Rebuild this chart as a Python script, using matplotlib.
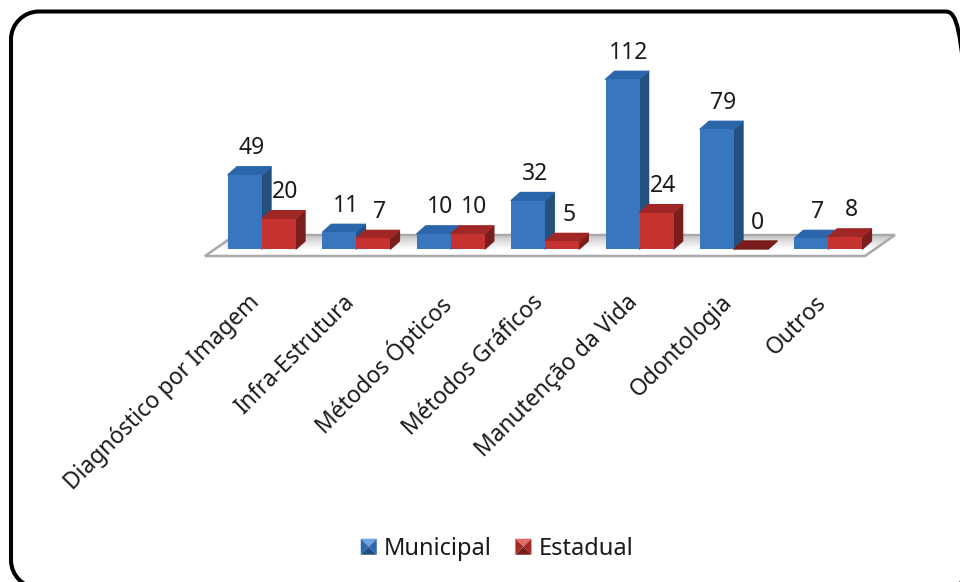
import matplotlib
matplotlib.use("Agg")
import matplotlib.pyplot as plt
from matplotlib.legend_handler import HandlerBase
from matplotlib.patches import Patch, PathPatch, Polygon
from matplotlib.path import Path
from matplotlib.transforms import IdentityTransform, ScaledTranslation

categories = ["Diagnóstico por Imagem", "Infra-Estrutura", "Métodos Ópticos", "Métodos Gráficos",
              "Manutenção da Vida", "Odontologia", "Outros"]
municipal = [49, 11, 10, 32, 112, 79, 7]
estadual = [20, 7, 10, 5, 24, 0, 8]

W, H = 960, 582
PX_PER_CAT = 94.4
PX_PER_VAL = 1.515
BAR_W = 34 / PX_PER_CAT
DX = 9 / PX_PER_CAT
DY = 8 / PX_PER_VAL

BLUE = {"front": "#3876c0", "side": "#24507f", "top": "#2b66ab"}
RED = {"front": "#c63230", "side": "#791e1c", "top": "#a02725"}

plt.rcParams["font.family"] = ["Noto Sans", "DejaVu Sans"]


class BevelHandler(HandlerBase):
    # little pyramid square used by the old office legend
    def create_artists(self, legend, orig, x, y, w, h, fontsize, trans):
        c = orig.colors
        s = 16 * 0.72
        x0, y0 = x + (w - s) / 2, y + (h - s) / 2
        mid = (x0 + s / 2, y0 + s / 2)
        a, b, d, e = (x0, y0), (x0 + s, y0), (x0 + s, y0 + s), (x0, y0 + s)
        faces = [([e, d, mid], c["light"]), ([a, b, mid], c["side"]),
                 ([a, e, mid], c["top"]), ([b, d, mid], c["top"])]
        return [Polygon(p, closed=True, facecolor=f, edgecolor="none", transform=trans) for p, f in faces]


def draw_bars(ax, xs, values, colors, z):
    for x, v, zz in zip(xs, values, z):
        left, right = x - BAR_W / 2, x + BAR_W / 2
        ax.bar(x, v, BAR_W, color=colors["front"], zorder=zz + 0.2, clip_on=False)
        top = [(left, v), (right, v), (right + DX, v + DY), (left + DX, v + DY)]
        side = [(right, 0), (right + DX, DY), (right + DX, v + DY), (right, v)]
        top_color = colors["side"] if v == 0 else colors["top"]
        ax.add_patch(Polygon(side, closed=True, facecolor=colors["side"], edgecolor=colors["side"],
                             lw=1.0, joinstyle="round", zorder=zz, clip_on=False))
        ax.add_patch(Polygon(top, closed=True, facecolor=top_color, edgecolor=top_color,
                             lw=1.0, joinstyle="round", zorder=zz + 0.1, clip_on=False))
        ax.annotate(str(v), (x, v), xytext=(4.7, 19), textcoords="offset points", ha="center", va="center",
                    fontsize=16.5, color="#1a1a1a", zorder=50, annotation_clip=False)


def rounded_frame(x0, y0, x1, y1, r):
    k = r * 0.448
    verts = [(x0 + r, y0), (x1 - r, y0), (x1 - k, y0), (x1, y0 + k), (x1, y0 + r),
             (x1, y1 - r), (x1, y1 - k), (x1 - k, y1), (x1 - r, y1),
             (x0 + r, y1), (x0 + k, y1), (x0, y1 - k), (x0, y1 - r),
             (x0, y0 + r), (x0, y0 + k), (x0 + k, y0), (x0 + r, y0)]
    codes = [Path.MOVETO, Path.LINETO, Path.CURVE4, Path.CURVE4, Path.CURVE4,
             Path.LINETO, Path.CURVE4, Path.CURVE4, Path.CURVE4,
             Path.LINETO, Path.CURVE4, Path.CURVE4, Path.CURVE4,
             Path.LINETO, Path.CURVE4, Path.CURVE4, Path.CURVE4]
    return Path(verts, codes)


fig = plt.figure(figsize=(W / 100, H / 100), dpi=100)
ax = fig.add_axes([205 / W, (H - 249) / H, 700 / W, 239 / H])
xlim = ((205 - 262) / PX_PER_CAT, (905 - 262) / PX_PER_CAT)
ylim = (0, 239 / PX_PER_VAL)
for s in ax.spines.values():
    s.set_visible(False)
ax.set_yticks([])
ax.patch.set_visible(False)

pos = list(range(len(categories)))
ax.set_xticks(pos, categories, rotation=45, ha="right", rotation_mode="anchor", fontsize=16.4, color="#1a1a1a")
ax.tick_params(axis="x", length=0, pad=30)
shift = ScaledTranslation(-14 / 100, 0, fig.dpi_scale_trans)
for lab in ax.get_xticklabels():
    lab.set_transform(lab.get_transform() + shift)

# floor of the 3d plot
y_front = -7 / PX_PER_VAL
y_back = 14 / PX_PER_VAL
x_a, x_b = (205 - 262) / PX_PER_CAT, (865 - 262) / PX_PER_CAT
slant = 30 / PX_PER_CAT
corners = [(x_a, y_front), (x_b, y_front), (x_b + slant, y_back), (x_a + slant, y_back)]
floor = Polygon(corners, closed=True, facecolor="none", edgecolor="#a9a9a9", lw=1.8, zorder=1.1, clip_on=False)
ax.add_patch(floor)
shade = ax.imshow([[0.80], [0.90], [0.98], [1.0]], cmap="gray", vmin=0, vmax=1, aspect="auto", zorder=1,
                  extent=(x_a, x_b + slant, y_front, y_back), interpolation="bilinear")
shade.set_clip_path(Polygon(corners, closed=True, transform=ax.transData))
ax.set_xlim(xlim)
ax.set_ylim(ylim)

z = [2 + i * 2 for i in pos]
draw_bars(ax, [p - BAR_W / 2 for p in pos], municipal, BLUE, z)
draw_bars(ax, [p + BAR_W / 2 for p in pos], estadual, RED, [k + 1 for k in z])

h1 = Patch(label="Municipal")
h1.colors = {"light": "#6fa3e0", "top": "#2f66ad", "side": "#234c80"}
h2 = Patch(label="Estadual")
h2.colors = {"light": "#e06a66", "top": "#a52a27", "side": "#741d1b"}
fig.legend(handles=[h1, h2], loc="center", bbox_to_anchor=(497 / W, (H - 549) / H), ncol=2, frameon=False,
           fontsize=17, labelcolor="#1a1a1a", handler_map={Patch: BevelHandler()}, handlelength=0.68,
           handletextpad=0.3, columnspacing=1.0)

# rounded frame, it runs off the right and bottom edge of the picture
frame = PathPatch(rounded_frame(11, -6, 973, 570.5, 28), transform=IdentityTransform(),
                  facecolor="none", edgecolor="black", lw=2.9)
fig.add_artist(frame)

fig.savefig("out.png", dpi=100)
